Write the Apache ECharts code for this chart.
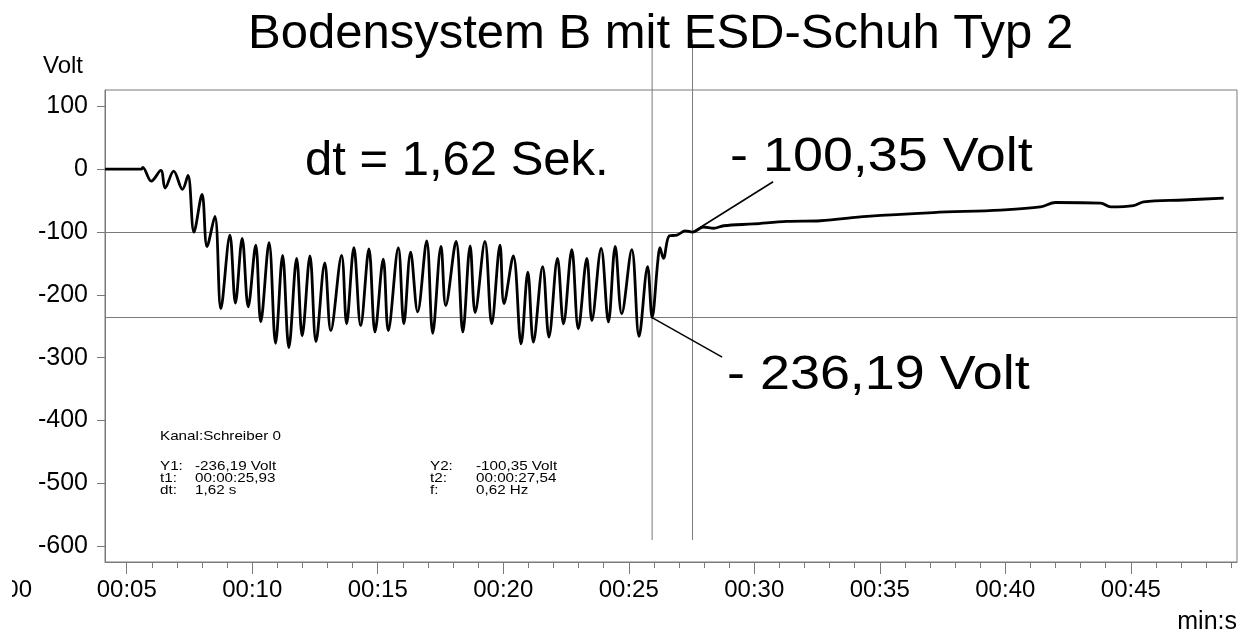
<!DOCTYPE html>
<html>
<head>
<meta charset="utf-8">
<script src="https://cdn.jsdelivr.net/npm/echarts@6.0.0/dist/echarts.min.js"></script>
<style>
  html, body { margin: 0; padding: 0; background: #fff; }
  #chart { width: 1247px; height: 635px; }
</style>
</head>
<body>
<div id="chart"></div>
<script>
// Messkurve (Zeit in s, Spannung in Volt)
const times = [
  4.14, 5.00, 5.59, 5.64, 5.98, 6.36, 6.53, 6.87, 7.22,
  7.44, 7.68, 8.00, 8.20, 8.51, 8.75, 9.11, 9.33, 9.60, 9.84,
  10.14, 10.34, 10.67, 10.93, 11.21, 11.46, 11.77, 11.99, 12.30, 12.54,
  12.89, 13.13, 13.56, 13.76, 14.05, 14.32, 14.65, 14.89, 15.22, 15.42,
  15.82, 16.04, 16.31, 16.59, 16.95, 17.19, 17.52, 17.71, 18.12, 18.39,
  18.68, 18.88, 19.27, 19.54, 19.87, 20.03, 20.40, 20.71, 20.98, 21.20,
  21.57, 21.82, 22.16, 22.40, 22.73, 22.99, 23.33, 23.53, 23.90, 24.19,
  24.46, 24.72, 25.12, 25.41, 25.75, 25.93, 26.16, 26.24, 26.38, 26.62,
  26.92, 27.25, 27.54, 27.98, 28.38, 28.78, 29.97, 31.30, 32.63, 34.49,
  37.14, 39.81, 41.40, 42.00, 43.80, 44.20, 45.11, 45.51, 47.11, 48.70
];
const volts = [
  0, 0, 0, 3, -19, -2, -30, -3, -32,
  -10, -100, -40, -123, -75, -222, -105, -213, -110, -219,
  -121, -243, -117, -277, -137, -284, -142, -265, -138, -274,
  -149, -257, -137, -246, -125, -249, -127, -259, -143, -257,
  -125, -246, -132, -227, -114, -261, -123, -217, -115, -259,
  -122, -228, -115, -246, -121, -214, -138, -278, -164, -275,
  -155, -267, -142, -246, -128, -254, -142, -241, -126, -243,
  -123, -230, -128, -266, -155, -236, -145, -125, -142, -106,
  -105, -98, -100, -92, -94, -90, -87, -83, -82, -75,
  -69, -65, -60, -53, -54, -60, -58, -52, -49, -46
];

// Cursor
const cursorT = [25.93, 27.54];
const cursorV = [-236.19, -100.35];
const cursorSpan = [206, -590];
// Hinweislinien zu den Beschriftungen
const leaderLow = [[25.93, -236.19], [28.72, -299]];
const leaderHigh = [[27.54, -100.35], [30.75, -20]];

// Achsen
const xMajor = [5, 10, 15, 20, 25, 30, 35, 40, 45];
const xMinor = [6, 7, 8, 9, 11, 12, 13, 14, 16, 17, 18, 19, 21, 22, 23, 24, 26, 27, 28, 29,
  31, 32, 33, 34, 36, 37, 38, 39, 41, 42, 43, 44, 46, 47, 48, 49];
const yTicks = [-600, -500, -400, -300, -200, -100, 0, 100];

const FONT = '"Liberation Sans", Arial, sans-serif';
const GRAY = '#7a7a7a';

const chart = echarts.init(document.getElementById('chart'));

function fmtTime(v) {
  return '00:' + String(Math.round(v)).padStart(2, '0');
}

function txt(x, y, text, size, opts) {
  opts = opts || {};
  return {
    type: 'text',
    x: x, y: y,
    scaleX: opts.scaleX || 1,
    z: opts.z || 50,
    style: {
      text: text,
      fill: '#000',
      font: size + 'px ' + FONT,
      textAlign: opts.align || 'left',
      textVerticalAlign: 'middle'
    }
  };
}

const small = { scaleX: 1.17 };

const option = {
  animation: false,
  backgroundColor: '#fff',
  title: {
    text: 'Bodensystem B mit ESD-Schuh Typ 2',
    left: 248, top: 10, padding: 0,
    textStyle: { fontSize: 49, fontWeight: 'normal', color: '#000', fontFamily: FONT }
  },
  grid: {
    left: 105, top: 90, right: 10, bottom: 73,
    show: true, borderColor: GRAY, borderWidth: 1
  },
  xAxis: [
    {
      type: 'value', min: 4.135, max: 49.23,
      axisLine: { show: true, onZero: false, lineStyle: { color: GRAY } },
      axisTick: { show: true, length: 12, customValues: xMajor, lineStyle: { color: GRAY } },
      axisLabel: {
        customValues: xMajor, formatter: fmtTime, margin: 16,
        fontSize: 24, color: '#000', fontFamily: FONT
      },
      splitLine: { show: false }
    },
    {
      type: 'value', min: 4.135, max: 49.23, position: 'bottom',
      axisLine: { show: false, onZero: false },
      axisTick: { show: true, length: 6, customValues: xMinor, lineStyle: { color: GRAY } },
      axisLabel: { show: false },
      splitLine: { show: false }
    }
  ],
  yAxis: {
    type: 'value', min: -625, max: 126,
    name: 'Volt', nameLocation: 'end', nameGap: 12,
    nameTextStyle: {
      fontSize: 24, color: '#000', fontFamily: FONT,
      align: 'right', verticalAlign: 'bottom', padding: [0, 22, 0, 0]
    },
    axisLine: { show: true, onZero: false, lineStyle: { color: GRAY } },
    axisTick: { show: true, length: 8, customValues: yTicks, lineStyle: { color: GRAY } },
    axisLabel: {
      customValues: yTicks, margin: 17,
      fontSize: 25, color: '#000', fontFamily: FONT
    },
    splitLine: { show: false }
  },
  series: [
    {
      name: 'Schreiber 0',
      type: 'line',
      data: times.map((t, i) => [t, volts[i]]),
      symbol: 'none',
      smooth: 0.35,
      lineStyle: { color: '#000', width: 2.8 },
      z: 5,
      markLine: {
        silent: true,
        symbol: ['none', 'none'],
        label: { show: false },
        lineStyle: { color: GRAY, width: 1, type: 'solid' },
        data: cursorV.map(v => ({ yAxis: v }))
      }
    },
    ...cursorT.map(t => ({
      type: 'line',
      data: [[t, cursorSpan[0]], [t, cursorSpan[1]]],
      symbol: 'none', clip: false, silent: true,
      lineStyle: { color: GRAY, width: 1 },
      z: 3
    })),
    ...[leaderLow, leaderHigh].map(seg => ({
      type: 'line',
      data: seg,
      symbol: 'none', silent: true,
      lineStyle: { color: '#000', width: 1.5 },
      z: 4
    }))
  ],
  graphic: [
    txt(305, 161, 'dt = 1,62 Sek.', 49),
    txt(730, 157, '- 100,35 Volt', 49, { scaleX: 1.1 }),
    txt(727, 375, '- 236,19 Volt', 49, { scaleX: 1.1 }),
    txt(160, 436, 'Kanal:Schreiber 0', 13, small),
    txt(160, 466, 'Y1:', 13, small),
    txt(195, 466, '-236,19 Volt', 13, small),
    txt(160, 478, 't1:', 13, small),
    txt(195, 478, '00:00:25,93', 13, small),
    txt(160, 490, 'dt:', 13, small),
    txt(195, 490, '1,62 s', 13, small),
    txt(430, 466, 'Y2:', 13, small),
    txt(476, 466, '-100,35 Volt', 13, small),
    txt(430, 478, 't2:', 13, small),
    txt(476, 478, '00:00:27,54', 13, small),
    txt(430, 490, 'f:', 13, small),
    txt(476, 490, '0,62 Hz', 13, small),
    txt(2, 590, '00:00', 24, { align: 'center', z: 60 }),
    { type: 'rect', z: 70, shape: { x: 0, y: 570, width: 12, height: 40 }, style: { fill: '#fff' } },
    txt(1237, 622, 'min:s', 25, { align: 'right' })
  ]
};

chart.setOption(option);
</script>
</body>
</html>
